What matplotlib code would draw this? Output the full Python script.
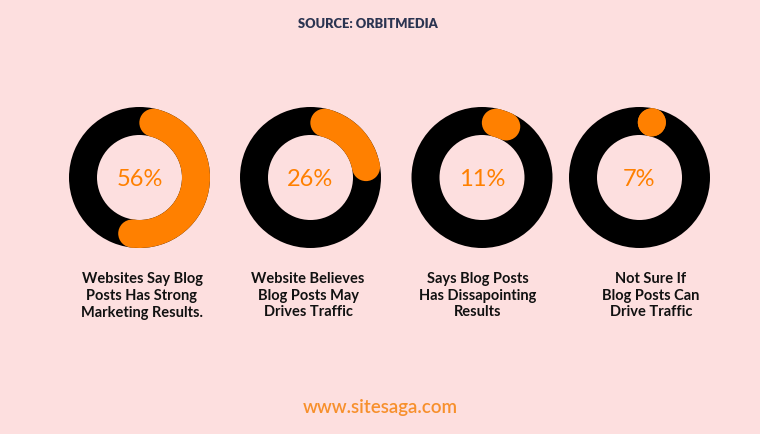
import numpy as np
import matplotlib
matplotlib.use('Agg')
import matplotlib.pyplot as plt
from matplotlib.patches import Wedge, Circle

# data
percents = [56, 26, 11, 7]
captions = [
    'Websites Say Blog\nPosts Has Strong\nMarketing Results.',
    'Website Believes\nBlog Posts May\nDrives Traffic',
    'Says Blog Posts\nHas Dissapointing\nResults',
    'Not Sure If\nBlog Posts Can\nDrive Traffic',
]
title = 'SOURCE: ORBITMEDIA'
footer = 'www.sitesaga.com'

# layout (pixel coords, y down)
ring_x = [139.5, 310.5, 482, 639.5]
caption_x = [142, 308, 478, 651]
ring_y = 177.5
r_out = 70.5
ring_w = 28
r_mid = r_out - ring_w / 2
cap_r = ring_w / 2
cap_deg = np.degrees(cap_r / r_mid)

bg = '#fddfdf'
orange = '#ff8000'
navy = '#2b3451'

fig = plt.figure(figsize=(7.6, 4.34), dpi=100, facecolor=bg)
ax = fig.add_axes([0, 0, 1, 1])
ax.set_facecolor(bg)
ax.set_xlim(0, 760)
ax.set_ylim(434, 0)
ax.set_aspect('equal')
ax.axis('off')

for cx, pct in zip(ring_x, percents):
    # black ring
    ax.add_patch(Wedge((cx, ring_y), r_out, 0, 360, width=ring_w, color='black', lw=0))
    # orange arc, starting at 12 o'clock going clockwise, with round ends
    total = pct / 100 * 360
    a1 = cap_deg
    a2 = total - cap_deg
    if a2 <= a1:
        a1 = a2 = total / 2
    else:
        ax.add_patch(Wedge((cx, ring_y), r_out, a1 - 90, a2 - 90, width=ring_w,
                           color=orange, lw=0))
    for a in (a1, a2):
        t = np.radians(a - 90)
        ax.add_patch(Circle((cx + r_mid * np.cos(t), ring_y + r_mid * np.sin(t)),
                            cap_r, color=orange, lw=0))
    ax.text(cx, ring_y + 2, f'{pct}%', ha='center', va='center', fontsize=17,
            color=orange, family='Lato')

for x, cap in zip(caption_x, captions):
    ax.text(x, 272, cap, ha='center', va='top', fontsize=10.5, color='#111111',
            family='Lato', weight='bold', linespacing=1.25)

ax.text(368, 24, title, ha='center', va='center', fontsize=9.3, color=navy,
        family='Lato', weight='heavy')
ax.text(380, 407, footer, ha='center', va='center', fontsize=13.5, color='#f7902c',
        family='Lato', weight='semibold')

fig.savefig('out.png', dpi=100, facecolor=bg)
